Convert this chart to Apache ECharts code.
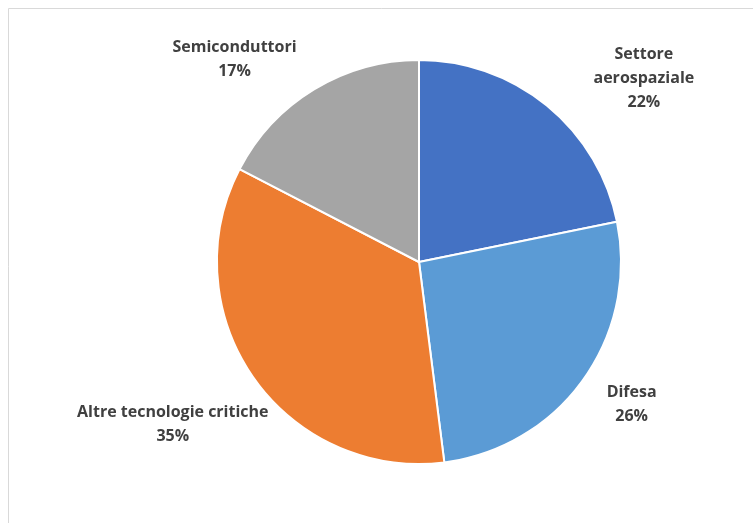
<!DOCTYPE html>
<html><head><meta charset="utf-8">
<script src="https://cdn.jsdelivr.net/npm/echarts@6/dist/echarts.min.js"></script>
<style>html,body{margin:0;padding:0;background:#fff}#c{width:753px;height:523px}</style>
</head><body><div id="c"></div>
<script>
var categories = ['Settore\naerospaziale', 'Difesa', 'Altre tecnologie critiche', 'Semiconduttori'];
var values = [21.8, 26.2, 34.6, 17.4];
var colors = ['#4472C4', '#5B9BD5', '#ED7D31', '#A5A5A5'];
// label placement (distance from centre in px, angle offset in deg)
var labelDist = [290, 256, 295, 274];
var labelAngleShift = [11.6, -1.8, 1.5, -11];

var cx = 419, cy = 262, R = 202;
var total = values.reduce(function(a,b){return a+b;},0);
var mids = [], acc = 0;
values.forEach(function(v){ mids.push((acc + v/2)/total*360); acc += v; });

var chart = echarts.init(document.getElementById('c'));
chart.setOption({
  animation: false,
  graphic: [{type:'rect', shape:{x:8.5, y:8.5, width:800, height:600}, style:{fill:'none', stroke:'#D9D9D9', lineWidth:1}, silent:true, z:-1}],
  series: [{
    type: 'pie',
    center: [cx, cy],
    radius: R,
    startAngle: 90,
    clockwise: true,
    color: colors,
    itemStyle: {borderColor:'#fff', borderWidth:2},
    label: {
      show: true,
      position: 'outside',
      formatter: function(p){ return p.name + '\n' + Math.round(p.value) + '%'; },
      fontFamily: 'Open Sans',
      fontWeight: 'bold',
      fontSize: 16,
      lineHeight: 24,
      color: '#404040',
      align: 'center'
    },
    labelLine: {show:false},
    labelLayout: function(p){
      var i = p.dataIndex;
      var a = (mids[i] + labelAngleShift[i]) * Math.PI/180;
      return {x: cx + labelDist[i]*Math.sin(a), y: cy - labelDist[i]*Math.cos(a), align:'center', verticalAlign:'middle'};
    },
    data: categories.map(function(c,i){ return {name:c, value:values[i]}; })
  }]
});
</script></body></html>
